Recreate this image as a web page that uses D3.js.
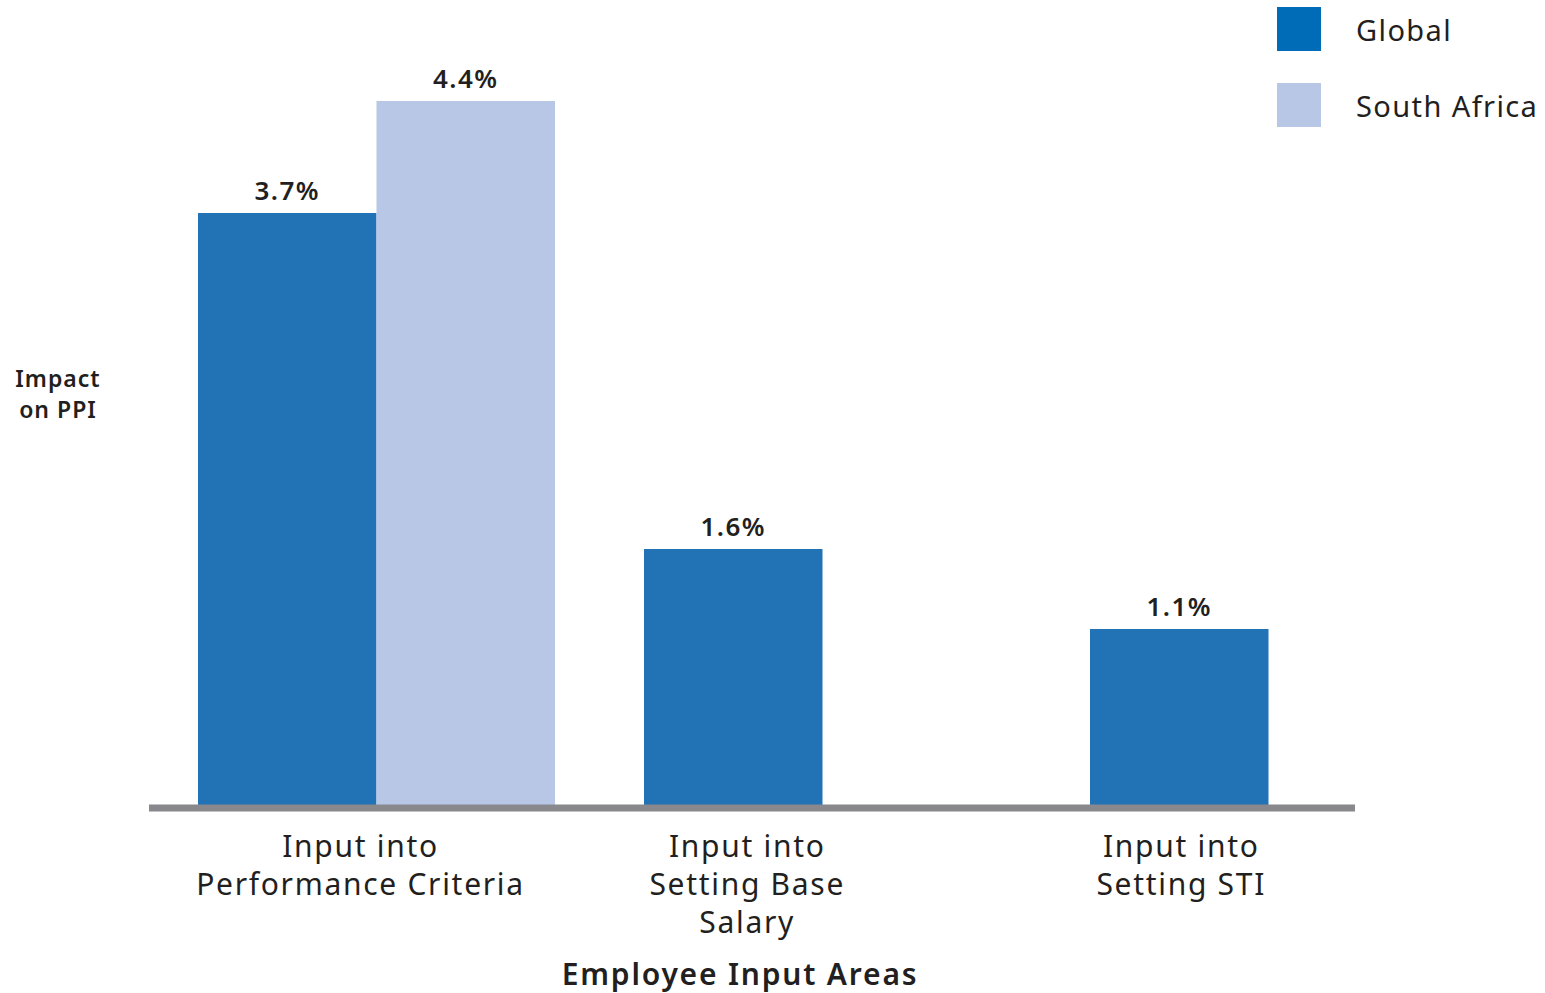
<!DOCTYPE html>
<html>
  <head>
    <meta charset="utf-8">
    <title>Employee Input Areas</title>
    <script src="https://cdn.jsdelivr.net/npm/d3@7"></script>
    <style>
      body { margin: 0; background: #fff; }
      text { font-family: "Noto Sans", sans-serif; fill: #231f20; }
    </style>
  </head>
  <body>
    <svg width="1545" height="993"></svg>
    <script>
      // data
      var categories = [
        ["Input into", "Performance Criteria"],
        ["Input into", "Setting Base", "Salary"],
        ["Input into", "Setting STI"]
      ];
      var series = ["Global", "South Africa"];
      var globalValues = [3.7, 1.6, 1.1];
      var southAfricaValues = [4.4, null, null];
      var colors = ["#2173b5", "#b8c7e6"];
      var legendColors = ["#006bb6", "#b8c7e6"];

      var svg = d3.select("svg");
      var baseY = 805;

      var x0 = d3.scaleBand()
        .domain(d3.range(categories.length))
        .range([198, 198 + 446 * 3]);
      // each group: two slots of ~178px, then a gap
      var x1 = d3.scaleBand()
        .domain(series)
        .range([0, 357]);

      var y = d3.scaleLinear()
        .domain([0, 4.4])
        .range([baseY, baseY - 4.4 * 160]);

      var labelShift = [-16, 14, 2];

      var rows = categories.map(function(c, i) {
        return { i: i, vals: [globalValues[i], southAfricaValues[i]] };
      });

      var g = svg.append("g");

      rows.forEach(function(r) {
        var gx = x0(r.i);
        var present = [];
        r.vals.forEach(function(v, k) {
          if (v == null) return;
          var bx = gx + x1(series[k]);
          present.push(bx);
          g.append("rect")
            .attr("x", bx)
            .attr("y", y(v))
            .attr("width", x1.bandwidth())
            .attr("height", baseY - y(v))
            .attr("fill", colors[k]);
          g.append("text")
            .attr("x", bx + x1.bandwidth() / 2)
            .attr("y", y(v) - 13)
            .attr("text-anchor", "middle")
            .style("font-size", "26px")
            .style("font-weight", 600)
            .style("letter-spacing", "1.5px")
            .text(v.toFixed(1) + "%");
        });
        // category label centred over the bars drawn
        var cx = (d3.min(present) + d3.max(present) + x1.bandwidth()) / 2 + labelShift[r.i];
        var t = g.append("text")
          .attr("text-anchor", "middle")
          .style("font-size", "30px")
          .style("letter-spacing", "1.7px");
        categories[r.i].forEach(function(line, j) {
          t.append("tspan")
            .attr("x", cx)
            .attr("y", 857 + j * 38)
            .text(line);
        });
      });

      // baseline
      g.append("line")
        .attr("x1", 149).attr("x2", 1355)
        .attr("y1", baseY + 3).attr("y2", baseY + 3)
        .attr("stroke", "#88888d")
        .attr("stroke-width", 7);

      // axis titles
      var yt = svg.append("text")
        .attr("text-anchor", "middle")
        .style("font-size", "23px")
        .style("font-weight", 600)
        .style("letter-spacing", "1px");
      yt.append("tspan").attr("x", 58).attr("y", 387).text("Impact");
      yt.append("tspan").attr("x", 58).attr("y", 418).text("on PPI");

      svg.append("text")
        .attr("x", 740)
        .attr("y", 985)
        .attr("text-anchor", "middle")
        .style("font-size", "30px")
        .style("font-weight", 600)
        .style("letter-spacing", "1.8px")
        .text("Employee Input Areas");

      // legend
      var lg = svg.append("g").selectAll("g")
        .data(series)
        .enter()
        .append("g")
        .attr("transform", function(d, i) { return "translate(1277," + (7 + i * 76) + ")"; });
      lg.append("rect")
        .attr("width", 44).attr("height", 44)
        .attr("fill", function(d, i) { return legendColors[i]; });
      lg.append("text")
        .attr("x", 79).attr("y", 34)
        .style("font-size", "29px")
        .style("letter-spacing", "1.4px")
        .text(function(d) { return d; });
    </script>
  </body>
</html>
